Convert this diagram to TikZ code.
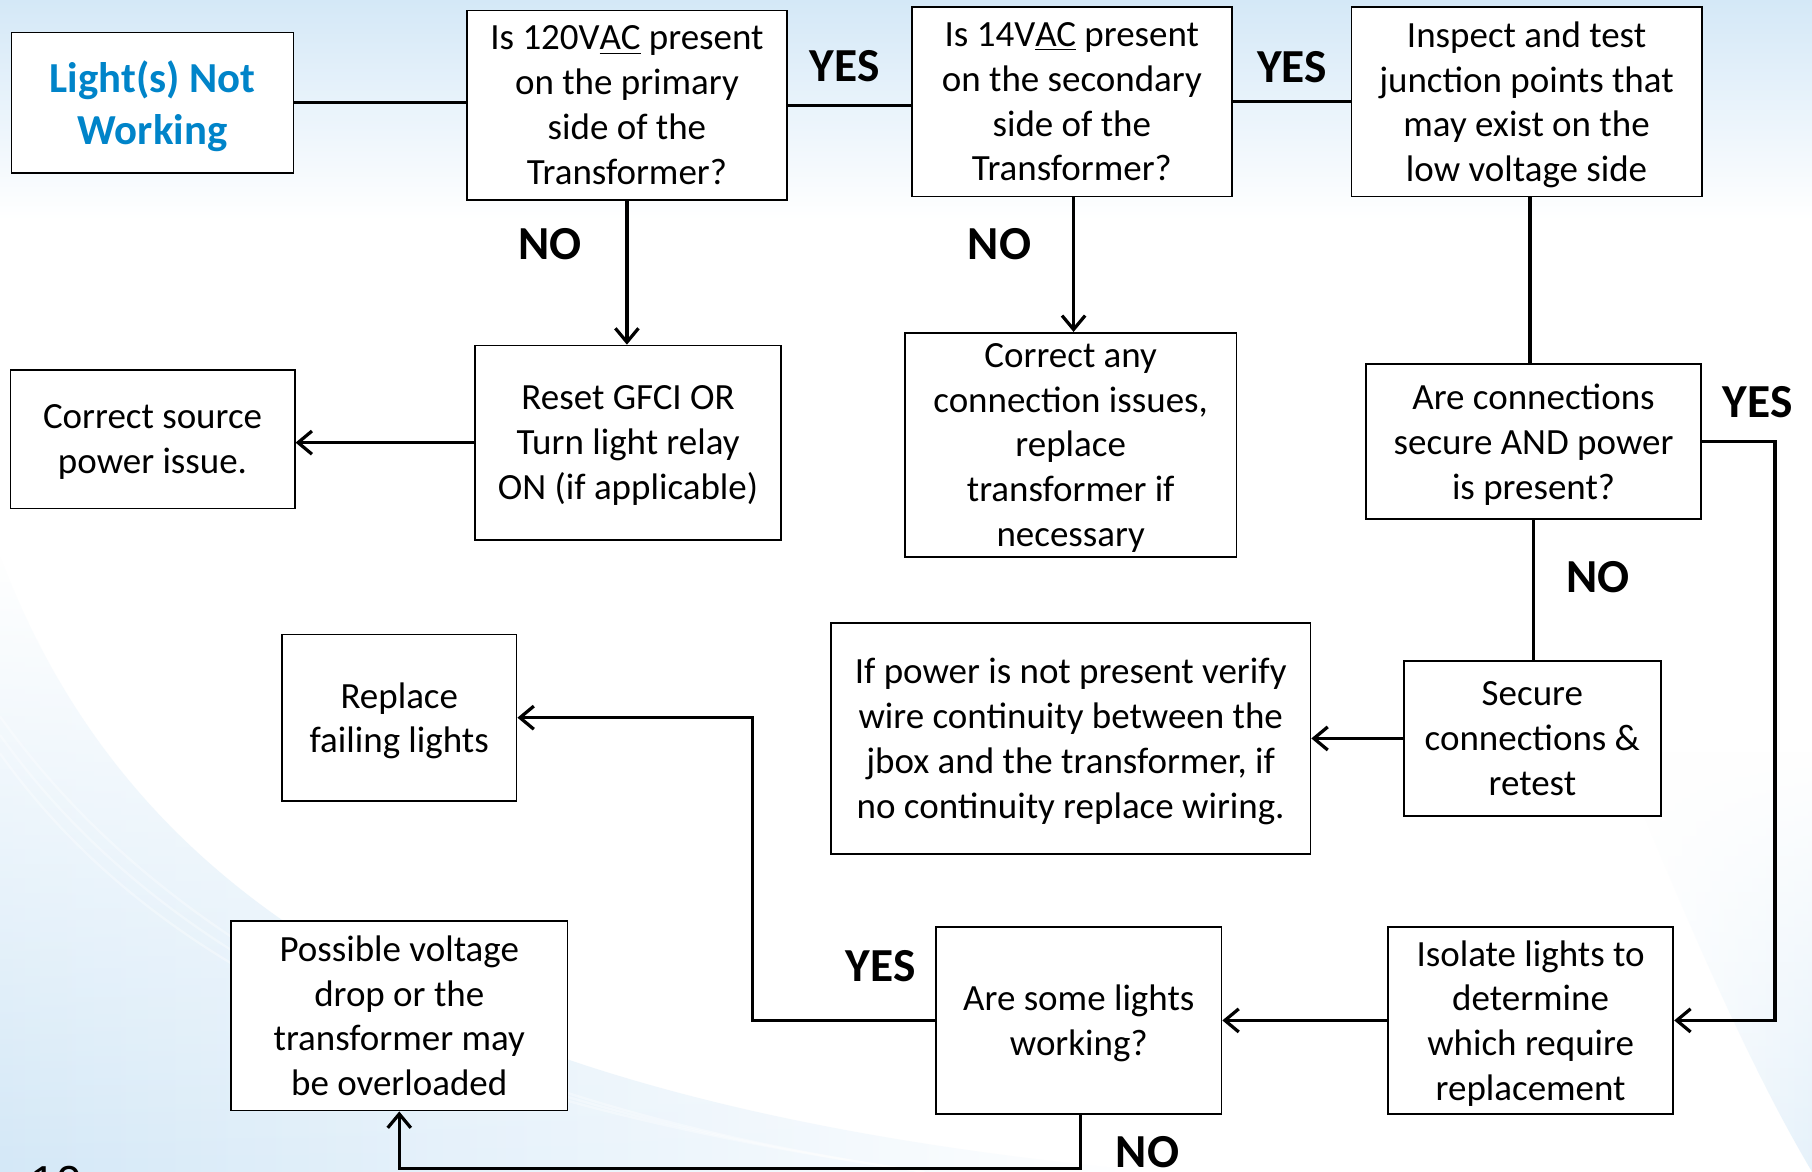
\documentclass[tikz,border=0pt]{standalone}
\usepackage{fontspec}
\setmainfont{Carlito}
\newfontfamily\pgnumfont{Liberation Sans}
\usetikzlibrary{arrows.meta,fadings}
\definecolor{bgblue}{RGB}{212,232,247}
\definecolor{titleblue}{RGB}{0,132,201}
\tikzset{
  sz/.style 2 args={minimum width=#1*0.5pt, minimum height=#2*0.5pt},
  box/.style={draw=black, line width=0.75pt, fill=white, align=center, inner sep=2pt,
    font=\fontsize{16}{19.4}\selectfont},
  lower/.style={text depth=0pt},
  lbl/.style={font=\bfseries\fontsize{20.5}{24}\selectfont, inner sep=0pt},
  conn/.style={line width=1.4pt},
  arr/.style={conn, -{Straight Barb[length=6pt,width=10pt]}},
}
\begin{document}
\begin{tikzpicture}[x=0.5pt,y=-0.5pt]
\useasboundingbox (0,0) rectangle (1568,1014);
\clip (0,0) rectangle (1568,1014);
% background
\fill[white] (0,0) rectangle (1568,1014);
\shade[top color=bgblue, bottom color=white] (0,0) rectangle (1568,190);
\shade[left color=bgblue, right color=white, path fading=north] (0,480) .. controls (120,800) and (420,960) .. (1000,1014) -- (0,1014) -- cycle;
\shade[left color=white, right color=bgblue!60, path fading=north] (1400,650) .. controls (1480,850) and (1530,950) .. (1568,1014) -- (1568,650) -- cycle;
\foreach \d in {0,16,32}{
  \draw[white, line width=1pt, opacity=0.35] (0,620+\d) .. controls (150,830+\d) and (420,960) .. (800,1014);
}
\node[anchor=base west, inner sep=0pt, font=\pgnumfont\fontsize{20}{24}\selectfont] (pg) at (26,1037) {10};

% boxes
\node[box, lower, sz={244}{122}, text=titleblue, font=\bfseries\fontsize{18.5}{22.5}\selectfont] (light) at (132,89) {Light(s) Not\\Working};
\node[box, sz={277}{164}] (q1) at (542.5,91) {Is 120V\underline{AC} present\\on the primary\\side of the\\Transformer?};
\node[box, lower, sz={277}{164}] (q2) at (927.5,88) {Is 14V\underline{AC} present\\on the secondary\\side of the\\Transformer?};
\node[box, lower, sz={303}{164}] (insp) at (1321,88) {Inspect and test\\junction points that\\may exist on the\\low voltage side};
\node[box, lower, sz={265}{168}] (reset) at (543.5,383) {Reset GFCI OR\\Turn light relay\\ON (if applicable)};
\node[box, lower, sz={246}{120}] (src) at (132,380) {Correct source\\power issue.};
\node[box, lower, sz={287}{194}] (corr) at (926.5,385) {Correct any\\connection issues,\\replace\\transformer if\\necessary};
\node[box, lower, sz={290}{134}] (cn) at (1327,382) {Are connections\\secure AND power\\is present?};
\node[box, lower, sz={222}{134}] (secure) at (1326,639) {Secure\\connections \&\\retest};
\node[box, lower, sz={415}{200}] (ifp) at (926.5,639) {If power is not present verify\\wire continuity between the\\jbox and the transformer, if\\no continuity replace wiring.};
\node[box, lower, sz={203}{144}] (replace) at (345.5,621) {Replace\\failing lights};
\node[box, sz={291}{164}] (possible) at (345.5,879) {Possible voltage\\drop or the\\transformer may\\be overloaded};
\node[box, lower, sz={247}{162}] (some) at (933.5,883) {Are some lights\\working?};
\node[box, lower, sz={247}{162}] (isolate) at (1324.5,883) {Isolate lights to\\determine\\which require\\replacement};

% helper coordinates
\coordinate (yesR) at (1536,380);
\coordinate (yesL) at (651,886);
\coordinate (noB) at (935,1011);

% connectors
\draw[conn] (light.east) -- (light.east -| q1.west);
\draw[conn] (q1.east) -- (q1.east -| q2.west);
\draw[conn] (q2.east) -- (q2.east -| insp.west);
\draw[arr] (q1.south) -- (q1.south |- reset.north);
\draw[arr] (reset.west) -- (reset.west -| src.east);
\draw[arr] ([xshift=0.75pt]q2.south) -- ([xshift=0.75pt]q2.south |- corr.north);
\draw[conn] ([xshift=1.5pt]insp.south) -- ([xshift=1.5pt]insp.south |- cn.north);
\draw[conn] (cn.south) -- (cn.south |- secure.north);
\draw[arr] (cn.east) -- (cn.east -| yesR) |- (isolate.east);
\draw[arr] (secure.west) -- (secure.west -| ifp.east);
\draw[arr] (isolate.west) -- (isolate.west -| some.east);
\draw[arr] (some.west) -- (some.west -| yesL) |- (replace.east);
\draw[arr] ([xshift=0.75pt]some.south) -- ([xshift=0.75pt]some.south |- noB) -| (possible.south);

% labels
\node[lbl] (y1) at (731,57) {YES};
\node[lbl] (y2) at (1118,58) {YES};
\node[lbl] (n1) at (476,211) {NO};
\node[lbl] (n2) at (865,211) {NO};
\node[lbl] (y3) at (1521,348) {YES};
\node[lbl] (n3) at (1383,499) {NO};
\node[lbl] (y4) at (762,836) {YES};
\node[lbl] (n4) at (993,997) {NO};
\end{tikzpicture}
\end{document}
